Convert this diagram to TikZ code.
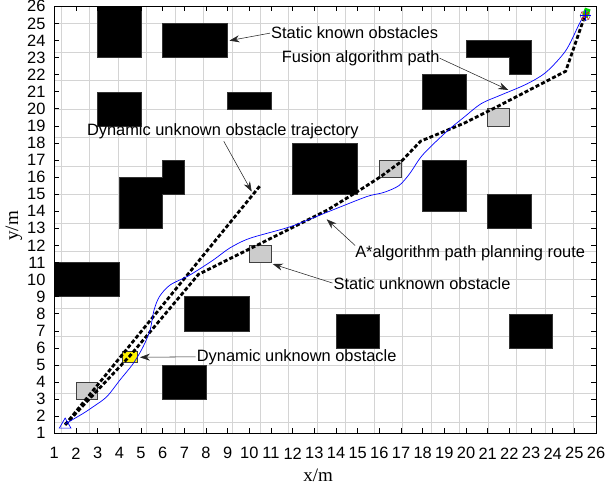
\documentclass[tikz,border=0pt]{standalone}
\usepackage{fontspec}
\setmainfont{Liberation Sans}
\newfontfamily\axfont{Liberation Serif}
\usetikzlibrary{arrows.meta,shapes.geometric}
\begin{document}
\begin{tikzpicture}[x=21.67pt,y=17.08pt,
  lbl/.style={font=\fontsize{16.4}{18}\selectfont, inner sep=0pt, anchor=west},
  tick/.style={font=\fontsize{16.4}{18}\selectfont, inner sep=0pt},
  blk/.style={fill=black, draw=black!80, line width=0.4pt},
  gry/.style={fill=black!20, draw=black!75, line width=0.7pt},
  astar/.style={line width=2.8pt, dash pattern=on 4pt off 2.2pt, black},
  fusion/.style={blue, line width=0.7pt},
  ann/.style={-{Stealth[length=10pt,width=7pt]}, line width=0.55pt, black!85}]
\useasboundingbox (-1.506,-1.968) rectangle (26.46,26.37);
% grid
\draw[black!17, line width=0.5pt] (1,1) grid (26,26);
% static known obstacles
\fill[blk] (3,23) rectangle (5,26);
\fill[blk] (6,23) rectangle (9,25);
\fill[blk] (3,19) rectangle (5,21);
\fill[blk] (9,20) rectangle (11,21);
\fill[blk] (12,15) rectangle (15,18);
\fill[blk] (20,23) -- (20,24) -- (23,24) -- (23,22) -- (22,22) -- (22,23) -- cycle;
\fill[blk] (18,20) rectangle (20,22);
\fill[blk] (18,14) rectangle (20,17);
\fill[blk] (21,13) rectangle (23,15);
\fill[blk] (4,13) -- (4,16) -- (6,16) -- (6,17) -- (7,17) -- (7,15) -- (6,15) -- (6,13) -- cycle;
\fill[blk] (1,9) rectangle (4,11);
\fill[blk] (7,7) rectangle (10,9);
\fill[blk] (14,6) rectangle (16,8);
\fill[blk] (22,6) rectangle (24,8);
\fill[blk] (6,3) rectangle (8,5);
% static unknown obstacles
\filldraw[gry] (2,3) rectangle (3,4);
\filldraw[gry] (10,11) rectangle (11,12);
\filldraw[gry] (16,16) rectangle (17,17);
\filldraw[gry] (21,19) rectangle (22,20);
% dynamic unknown obstacle
\filldraw[fill=yellow, draw=black!75, line width=0.7pt] (4.15,5.15) rectangle (4.85,5.8);
% A* route and obstacle trajectory
\draw[astar] (1.5,1.5) -- (10.5,15.5);
\draw[astar] (1.5,1.5) -- (4.5,5.55) -- (7.65,10.3) -- (13.6,14.07) -- (15.1,15.24) -- (16.03,16.0)
  -- (17.0,16.9) -- (17.9,18.1) -- (19.9,19.15) -- (21.4,20.1) -- (24.6,22.2) -- (25.5,25.5);
% fusion path
\draw[fusion] plot[smooth, tension=0.5] coordinates {(1.5,1.55) (2.34,2.17) (2.8,2.56) (3.42,3.14)
  (4.03,4.12) (4.65,5.1) (5.1,6.07) (5.42,7.05) (5.6,8.2) (5.85,9.0) (6.34,9.68) (7.26,10.27)
  (8.34,11.15) (9.1,11.85) (10.03,12.42) (11.9,13.1) (13.6,13.95) (15.4,14.85) (16.2,15.1)
  (16.9,15.5) (17.4,16.2) (18.0,17.3) (19.1,18.66) (19.9,19.5) (20.7,20.3) (21.6,20.8)
  (22.8,21.45) (23.7,22.15) (24.6,23.4) (25.2,24.9) (25.45,25.5)};
% start and goal
\node[regular polygon, regular polygon sides=3, draw=blue, line width=0.7pt,
  minimum size=13.4pt, inner sep=0pt] (start) at (1.5,1.5) {};
\node[fill=green!85!black, minimum width=6pt, minimum height=9pt, inner sep=0pt, rotate=-20] (goalmark) at (25.55,25.62) {};
\node[circle, draw=black!55, line width=0.6pt, minimum size=10pt, inner sep=0pt] (goal) at (25.5,25.45) {};
\draw[red, line width=0.6pt] (goal.north west) -- (goal.south east) (goal.north east) -- (goal.south west);
\draw[blue, line width=0.5pt] (goal.north) -- (goal.south) (goal.west) -- (goal.east);
% frame and ticks
\draw[line width=0.8pt] (1,1) rectangle (26,26);
\foreach \i in {1,...,26} {
  \draw[line width=0.6pt] (\i,1) -- ++(0,5pt) (\i,26) -- ++(0,-5pt) (1,\i) -- ++(5pt,0) (26,\i) -- ++(-5pt,0);
  \node[tick] at (\i,-0.17) {\i};
  \node[tick, anchor=east] at (0.6,\i) {\i};
}
\node[font=\axfont\fontsize{19}{21}\selectfont, inner sep=0pt] (xl) at (13.18,-1.44) {x/m};
\node[font=\axfont\fontsize{19}{21}\selectfont, inner sep=0pt, rotate=90] (yl) at (-0.86,13.14) {y/m};
% annotations
\node[lbl] (tsk) at (11.0,24.44) {Static known obstacles};
\coordinate (psk) at (9.08,23.99);
\draw[ann, shorten <=1pt] (tsk.west) -- (psk);
\node[lbl] (tfu) at (11.49,22.96) {Fusion algorithm path};
\coordinate (pfu) at (21.95,21.1);
\draw[ann] (tfu.east) -- (pfu);
\node[lbl] (ttr) at (2.5,18.66) {Dynamic unknown obstacle trajectory};
\coordinate (ptr) at (10.11,15.15);
\draw[ann, shorten <=2pt] (ttr.south) -- (ptr);
\node[lbl] (tas) at (14.88,11.54) {A*algorithm path planning route};
\coordinate (pas) at (13.57,13.53);
\draw[ann] (tas.north west) -- (pas);
\node[lbl] (tsu) at (13.88,9.78) {Static unknown obstacle};
\coordinate (psu) at (11.08,10.91);
\draw[ann, shorten <=1pt] (tsu.west) -- (psu);
\node[lbl] (tdo) at (7.57,5.48) {Dynamic unknown obstacle};
\coordinate (pdo) at (4.95,5.45);
\draw[ann, shorten <=1pt] (tdo.west) -- (pdo);
\end{tikzpicture}
\end{document}
